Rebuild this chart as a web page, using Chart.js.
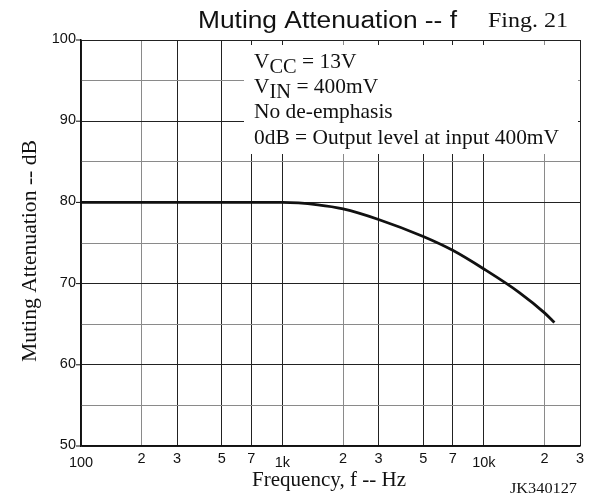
<!DOCTYPE html>
<html lang="en">
<head>
<meta charset="UTF-8">
<title>Muting Attenuation - f</title>
<script src="https://cdn.jsdelivr.net/npm/chart.js"></script>
<style>
  body { margin: 0; padding: 0; background: #fff; }
  .wrap { width: 596px; height: 497px; position: relative; }
</style>
</head>
<body>
<div class="wrap"><canvas id="c"></canvas></div>
<script>
// data
const freqs = [100, 200, 500, 1000, 1500, 2000, 3000, 5000, 7000, 10000, 15000, 20000, 22400];
const attenuation = [80, 80, 80, 80, 79.7, 79.2, 77.9, 75.8, 74.1, 71.8, 68.9, 66.4, 65.2];

const xTicks = [100, 200, 300, 500, 700, 1000, 2000, 3000, 5000, 7000, 10000, 20000, 30000];
const xLabels = ['100', '2', '3', '5', '7', '1k', '2', '3', '5', '7', '10k', '2', '3'];
const yLabels = [50, 60, 70, 80, 90, 100];

// '|' marks a subscript part
const noteLines = ['V|CC| = 13V', 'V|IN| = 400mV', 'No de-emphasis', '0dB = Output level at input 400mV'];

const SANS = '"Liberation Sans", Arial, sans-serif';
const SERIF = '"Liberation Serif", "Times New Roman", serif';

// draw text squeezed/stretched horizontally to a given width
function fitText(ctx, text, x, y, font, width) {
  ctx.font = font;
  const s = width / ctx.measureText(text).width;
  ctx.save();
  ctx.translate(x, y);
  ctx.scale(s, 1);
  ctx.textAlign = 'left';
  ctx.fillText(text, 0, 0);
  ctx.restore();
}

function noteWidth(ctx, line) {
  let w = 0;
  line.split('|').forEach((p, j) => {
    ctx.font = (j % 2 ? '20px ' : '21px ') + SERIF;
    w += ctx.measureText(p).width;
  });
  return w;
}

const decor = {
  id: 'decor',
  beforeDatasetsDraw(chart) {
    const ctx = chart.ctx;
    ctx.save();
    ctx.fillStyle = '#fff';
    ctx.fillRect(244, 45, 334, 109);
    ctx.restore();
  },
  afterDraw(chart) {
    const ctx = chart.ctx;
    const xs = chart.scales.x, ys = chart.scales.y;
    const area = chart.chartArea;
    ctx.save();
    ctx.fillStyle = '#111';
    ctx.strokeStyle = '#111';

    // y tick stubs + labels
    ctx.font = '14.5px ' + SANS;
    ctx.textAlign = 'right';
    ctx.textBaseline = 'middle';
    ctx.lineWidth = 1;
    yLabels.forEach(v => {
      const y = ys.getPixelForValue(v);
      ctx.beginPath();
      ctx.moveTo(area.left - 5, y);
      ctx.lineTo(area.left, y);
      ctx.stroke();
      ctx.fillText(String(v), area.left - 5, y - 1);
    });

    // x labels
    ctx.font = '14.5px ' + SANS;
    ctx.textAlign = 'center';
    ctx.textBaseline = 'alphabetic';
    xTicks.forEach((v, i) => {
      const x = xs.getPixelForValue(v);
      const major = xLabels[i].length > 1;
      ctx.fillText(xLabels[i], x, area.bottom + (major ? 21 : 16.5));
    });

    // titles
    fitText(ctx, 'Muting Attenuation -- f', 198, 27.5, '23.5px ' + SANS, 259);
    fitText(ctx, 'Fing. 21', 488, 27, '21px ' + SERIF, 80);
    fitText(ctx, 'Frequency, f -- Hz', 252, 486, '21.5px ' + SERIF, 154);
    fitText(ctx, 'JK340127', 510, 493, '15px ' + SERIF, 67);

    ctx.save();
    ctx.translate(36, 362);
    ctx.rotate(-Math.PI / 2);
    fitText(ctx, 'Muting Attenuation -- dB', 0, 0, '21px ' + SERIF, 222);
    ctx.restore();

    // notes with subscripts, scaled so the longest line fits
    const baseY = [68, 93, 118, 144];
    const s = 305 / noteWidth(ctx, noteLines[3]);
    ctx.textAlign = 'left';
    noteLines.forEach((line, i) => {
      ctx.save();
      ctx.translate(254, baseY[i]);
      ctx.scale(s, 1);
      let x = 0;
      line.split('|').forEach((p, j) => {
        const sub = j % 2 === 1;
        ctx.font = (sub ? '20px ' : '21px ') + SERIF;
        ctx.fillText(p, x, sub ? 4.5 : 0);
        x += ctx.measureText(p).width;
      });
      ctx.restore();
    });
    ctx.restore();
  }
};

new Chart(document.getElementById('c'), {
  type: 'line',
  data: {
    datasets: [{
      data: freqs.map((f, i) => ({ x: f, y: attenuation[i] })),
      borderColor: '#111',
      borderWidth: 2.8,
      pointRadius: 0,
      cubicInterpolationMode: 'monotone',
      fill: false
    }]
  },
  options: {
    responsive: true,
    maintainAspectRatio: false,
    animation: false,
    layout: { padding: { left: 81, right: 16, top: 40, bottom: 51 } },
    plugins: { legend: { display: false }, tooltip: { enabled: false } },
    scales: {
      x: {
        type: 'logarithmic',
        min: 100,
        max: 30000,
        afterBuildTicks: s => { s.ticks = xTicks.map(v => ({ value: v })); },
        ticks: { display: false },
        border: { color: '#111', width: 1.5 },
        grid: {
          drawTicks: false,
          color: c => {
            const v = c.tick ? c.tick.value : 0;
            return String(v)[0] === '2' ? '#8a8a8a' : '#222';
          },
          lineWidth: 1
        }
      },
      y: {
        min: 50,
        max: 100,
        ticks: { display: false, stepSize: 5 },
        border: { color: '#111', width: 1.5 },
        grid: {
          drawTicks: false,
          color: c => (c.tick && c.tick.value % 10 === 0) ? '#222' : '#8a8a8a',
          lineWidth: 1
        }
      }
    }
  },
  plugins: [decor]
});
</script>
</body>
</html>
